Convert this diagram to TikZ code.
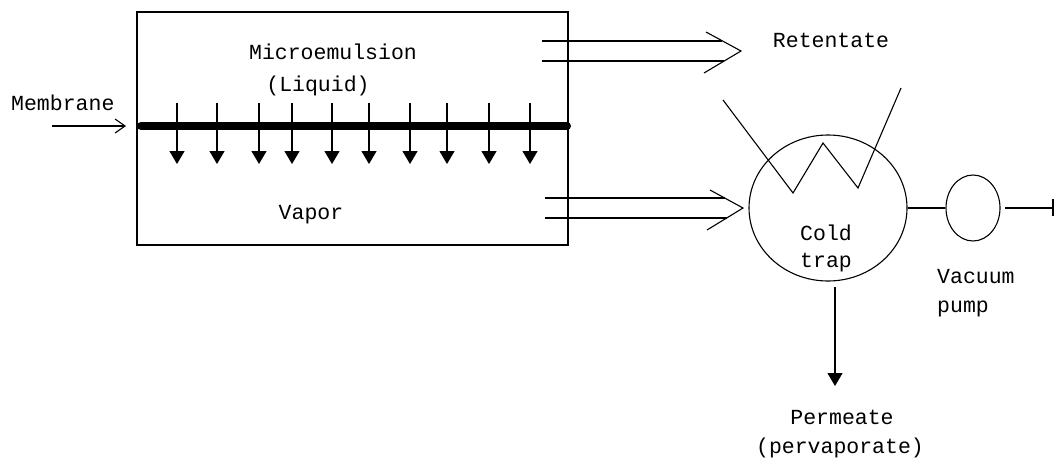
\documentclass[tikz,border=0pt]{standalone}
\usepackage{fontspec}
\setmainfont{Liberation Mono}
\usetikzlibrary{arrows.meta,shapes.geometric}
\begin{document}
\begin{tikzpicture}[x=1pt,y=-1pt,
  ln/.style={line width=1.1pt},
  lbl/.style={font=\fontsize{21.5}{30}\selectfont, inner sep=0pt, anchor=base},
  dropar/.style={line width=1.2pt, -{Triangle[width=15pt,length=13pt]}},
  barb/.style={line width=1.1pt, -{Straight Barb[length=10pt,width=14pt]}},
  vessel/.style={draw, ellipse, line width=1.1pt, inner sep=0pt}
]
\fill[white] (0,0) rectangle (1054,458);
\useasboundingbox (0,0) rectangle (1054,458);

% membrane module
\node[draw, line width=1.1pt, minimum width=431pt, minimum height=233pt, inner sep=0pt] (box) at (352.5,128.5) {};
\coordinate (mL) at (141,126);
\coordinate (mR) at (567,126);
\draw[line width=8pt, line cap=round] (mL) -- (mR);
\foreach \x [count=\i] in {177,217,259,292,332,369,410,447,489,530} {
  \coordinate (a\i) at (\x,103);
  \coordinate (b\i) at (\x,164);
  \draw[dropar] (a\i) -- (b\i);
}

\node[lbl] (micro) at (333,59) {Microemulsion};
\node[lbl] (liq) at (318,91) {(Liquid)};
\node[lbl] (vap) at (311,219) {Vapor};

% membrane label
\node[lbl, anchor=base west] (memlbl) at (11,110) {Membrane};
\coordinate (ms) at (52,126);
\coordinate (me) at (126,126);
\draw[barb] (ms) -- (me);

% retentate double arrow
\coordinate (rt) at (741,51);
\coordinate (r1s) at (542,41); \coordinate (r1e) at (722,41);
\coordinate (r2s) at (542,61); \coordinate (r2e) at (724,61);
\coordinate (ra1) at (706,32); \coordinate (ra2) at (704,73);
\draw[ln] (r1s) -- (r1e);
\draw[ln] (r2s) -- (r2e);
\draw[ln] (ra1) -- (rt) -- (ra2);
\node[lbl] (ret) at (831,47) {Retentate};

% vapor double arrow
\coordinate (vt) at (743,208);
\coordinate (v1s) at (545,198); \coordinate (v1e) at (725,198);
\coordinate (v2s) at (545,218); \coordinate (v2e) at (727,218);
\coordinate (va1) at (710,190); \coordinate (va2) at (707,230);
\draw[ln] (v1s) -- (v1e);
\draw[ln] (v2s) -- (v2e);
\draw[ln] (va1) -- (vt) -- (va2);

% cold trap
\node[vessel, minimum width=158pt, minimum height=146pt] (trap) at (828,208) {};
\coordinate (z1) at (723,100);
\coordinate (z2) at (793,193);
\coordinate (z3) at (823,143);
\coordinate (z4) at (858,188);
\coordinate (z5) at (901,88);
\draw[ln] (z1) -- (z2) -- (z3) -- (z4) -- (z5);
\node[lbl] (cold) at (826,240) {Cold};
\node[lbl] (trp) at (826,267) {trap};

% vacuum pump
\node[vessel, minimum width=54pt, minimum height=66pt] (pump) at (973,208) {};
\draw[ln] (trap.east) -- (pump.west);
\coordinate (pe) at (1005,208);
\coordinate (pend) at (1053,208);
\coordinate (tk1) at (1053,199);
\coordinate (tk2) at (1053,216);
\draw[ln] (pe) -- (pend);
\draw[ln] (tk1) -- (tk2);
\node[lbl, anchor=base west] (vac) at (937,283) {Vacuum};
\node[lbl, anchor=base west] (pmp) at (937,312) {pump};

% permeate
\coordinate (ps) at (835,287);
\coordinate (pt) at (835,386);
\draw[dropar] (ps) -- (pt);
\node[lbl] (perm) at (842,424) {Permeate};
\node[lbl] (perv) at (840,453) {(pervaporate)};
\end{tikzpicture}
\end{document}
